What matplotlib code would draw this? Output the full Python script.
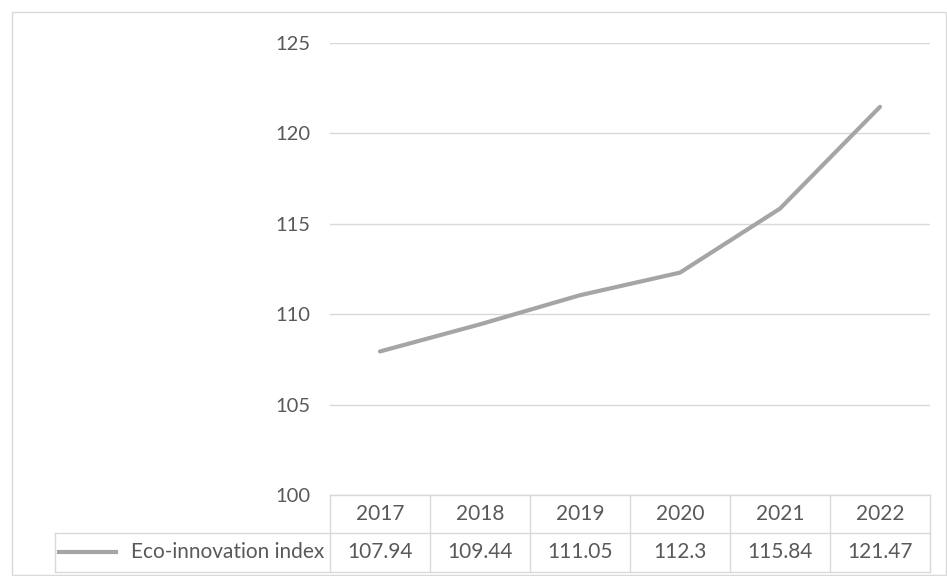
import matplotlib.pyplot as plt
from matplotlib.patches import Rectangle
from matplotlib.lines import Line2D

plt.rcParams['font.family'] = ['Lato', 'DejaVu Sans']

years = ['2017', '2018', '2019', '2020', '2021', '2022']
values = [107.94, 109.44, 111.05, 112.3, 115.84, 121.47]
value_labels = ['107.94', '109.44', '111.05', '112.3', '115.84', '121.47']
series_name = 'Eco-innovation index'
y_ticks = [100, 105, 110, 115, 120, 125]

W, H = 947, 576
fig = plt.figure(figsize=(W / 100, H / 100), dpi=100)
text_col = '#595959'
grid_col = '#d9d9d9'
line_col = '#a5a5a5'
fs = 15


def fx(px):
    return px / W


def fy(py):
    return 1 - py / H


# chart border
fig.patches.append(Rectangle((fx(12), fy(575)), fx(934), (575 - 12) / H,
                             transform=fig.transFigure, fill=False,
                             edgecolor='#d9d9d9', linewidth=1))

left, right, top, bottom = 330, 930, 43, 495
ax = fig.add_axes([fx(left), fy(bottom), fx(right - left), (bottom - top) / H])
x = list(range(len(years)))
ax.plot(x, values, color=line_col, linewidth=3.0, solid_capstyle='round')
ax.set_xlim(-0.5, len(years) - 0.5)
ax.set_ylim(100, 125)
ax.set_yticks(y_ticks)
ax.set_yticklabels([str(t) for t in y_ticks])
ax.set_xticks([])
ax.tick_params(axis='y', length=0, pad=14, labelsize=14.5, labelcolor=text_col)
ax.grid(axis='y', color=grid_col, linewidth=1)
for s in ax.spines.values():
    s.set_visible(False)

# data table
row1, row2, row3 = 495, 533, 572
cell_left = 55
lw = 1
fig.add_artist(Line2D([fx(left), fx(right)], [fy(row1)] * 2, color=grid_col, lw=lw))
fig.add_artist(Line2D([fx(cell_left), fx(right)], [fy(row2)] * 2, color=grid_col, lw=lw))
fig.add_artist(Line2D([fx(cell_left), fx(right)], [fy(row3)] * 2, color=grid_col, lw=lw))
fig.add_artist(Line2D([fx(cell_left)] * 2, [fy(row2), fy(row3)], color=grid_col, lw=lw))
col_w = (right - left) / len(years)
for i in range(len(years) + 1):
    xc = left + i * col_w
    fig.add_artist(Line2D([fx(xc), fx(xc)], [fy(row1), fy(row3)], color=grid_col, lw=lw))
for i, (yr, vl) in enumerate(zip(years, value_labels)):
    xc = left + (i + 0.5) * col_w
    fig.text(fx(xc), fy((row1 + row2) / 2), yr, ha='center', va='center',
             fontsize=fs, color=text_col)
    fig.text(fx(xc), fy((row2 + row3) / 2), vl, ha='center', va='center',
             fontsize=fs, color=text_col)

# legend key
fig.add_artist(Line2D([fx(59), fx(116)], [fy(552)] * 2, color=line_col, lw=3.0))
fig.text(fx(324), fy((row2 + row3) / 2), series_name, ha='right', va='center',
         fontsize=fs, color=text_col)

fig.savefig('out.png', dpi=100)
